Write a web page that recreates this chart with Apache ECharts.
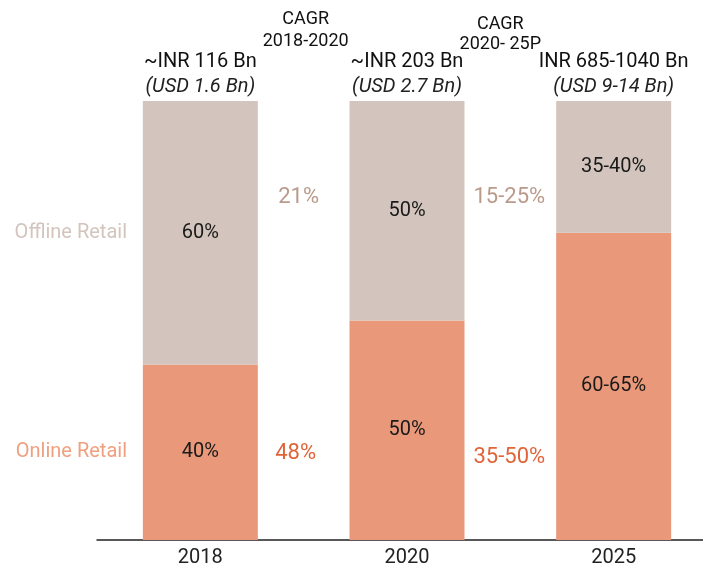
<!DOCTYPE html>
<html><head><meta charset="utf-8">
<script src="https://cdn.jsdelivr.net/npm/echarts@6/dist/echarts.min.js"></script>
<style>html,body{margin:0;padding:0;background:#fff;overflow:hidden;width:703px;height:569px}#c{width:717px;height:569px}</style>
</head><body><div id="c"></div>
<script>
const categories = ['2018', '2020', '2025'];
const onlineValues = [40, 50, 70];
const offlineValues = [60, 50, 30];
const onlineLabels = ['40%', '50%', '60-65%'];
const offlineLabels = ['60%', '50%', '35-40%'];
const headerMain = ['~INR 116 Bn', '~INR 203 Bn', 'INR 685-1040 Bn'];
const headerSub = ['(USD 1.6 Bn)', '(USD 2.7 Bn)', '(USD 9-14 Bn)'];
const cagrTitles = [['CAGR', '2018-2020'], ['CAGR', '2020- 25P']];
const cagrOffline = ['21%', '15-25%'];
const cagrOnline = ['48%', '35-50%'];
const seriesNames = ['Online Retail', 'Offline Retail'];

const FONT = 'Roboto';
const chart = echarts.init(document.getElementById('c'));
chart.setOption({
  animation: false,
  grid: { left: 97, right: 0, top: 101, bottom: 29 },
  xAxis: {
    type: 'category', data: categories,
    axisLine: { lineStyle: { color: '#222', width: 1.5 } },
    axisTick: { show: false },
    axisLabel: { color: '#222', fontSize: 20, fontFamily: FONT, margin: 8 }
  },
  yAxis: { type: 'value', min: 0, max: 100, show: false, splitLine: { show: false } },
  series: [
    { name: seriesNames[0], type: 'bar', stack: 's', barWidth: 115, data: onlineValues,
      itemStyle: { color: '#E9997A' },
      label: { show: true, position: 'inside', color: '#1a1a1a', fontSize: 20, fontFamily: FONT,
        formatter: p => onlineLabels[p.dataIndex] } },
    { name: seriesNames[1], type: 'bar', stack: 's', barWidth: 115, data: offlineValues,
      itemStyle: { color: '#D3C5BD' },
      label: { show: true, position: 'inside', color: '#1a1a1a', fontSize: 20, fontFamily: FONT,
        formatter: p => offlineLabels[p.dataIndex] } }
  ]
});

function px(xi, v) { return chart.convertToPixel({ gridIndex: 0 }, [xi, v]); }
const g = [];
function txt(x, y, s, style) {
  g.push({ type: 'text', x: x, y: y, style: Object.assign({ text: s, fontFamily: FONT, fontSize: 17,
    fill: '#111', textAlign: 'center', textVerticalAlign: 'middle' }, style) });
}
// headers above each bar
categories.forEach((c, i) => {
  const p1 = px(i, 108.9), p2 = px(i, 103.2);
  txt(p1[0], p1[1], headerMain[i], { fontSize: 20 });
  txt(p2[0], p2[1], headerSub[i], { fontSize: 20, fontStyle: 'italic', fill: '#222' });
});
// left series labels aligned with 2018 segment centres
{
  const pOn = px(0, onlineValues[0] / 2), pOff = px(0, onlineValues[0] + offlineValues[0] / 2);
  txt(127, pOff[1], seriesNames[1], { textAlign: 'right', fontSize: 20, fill: '#D3C5BD' });
  txt(127, pOn[1], seriesNames[0], { textAlign: 'right', fontSize: 20, fill: '#EFA080' });
}
// CAGR annotations between bars
const titleDx = [2, -10], titleY1 = [118.5, 117.4], titleY2 = [113.5, 112.9];
const offDx = [-5, -1], onDx = [-8, -1], onY = [19.6, 18.9];
[0, 1].forEach(k => {
  const mid = (px(k, 0)[0] + px(k + 1, 0)[0]) / 2;
  txt(mid + titleDx[k], px(k, titleY1[k])[1], cagrTitles[k][0], { fontSize: 18 });
  txt(mid + titleDx[k], px(k, titleY2[k])[1], cagrTitles[k][1], { fontSize: 18 });
  txt(mid + offDx[k], px(k, 78.1)[1], cagrOffline[k], { fontSize: 22, fill: '#B99A8B' });
  txt(mid + onDx[k], px(k, onY[k])[1], cagrOnline[k], { fontSize: 22, fill: '#E0643A' });
});
chart.setOption({ graphic: g });
</script></body></html>
